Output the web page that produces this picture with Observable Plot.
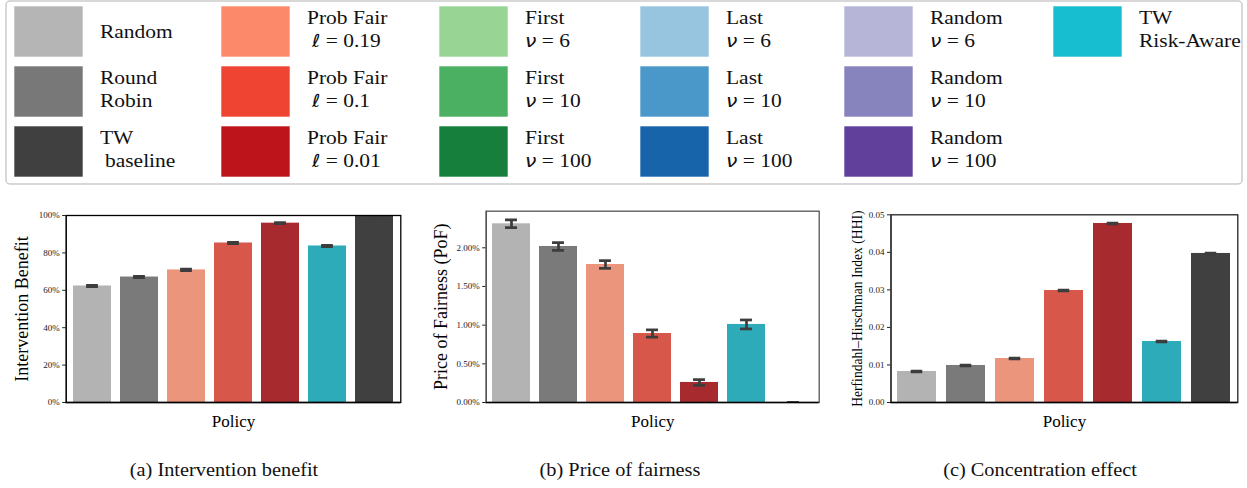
<!DOCTYPE html>
<html>
<head>
<meta charset="utf-8">
<script src="https://cdn.jsdelivr.net/npm/d3@7"></script>
<script src="https://cdn.jsdelivr.net/npm/@observablehq/plot@0.6"></script>
<style>
  body { margin: 0; background: #fff; }
  #page { position: relative; width: 1247px; height: 488px; overflow: hidden; font-family: "Liberation Serif", serif; background: #fff; }
  .panel { position: absolute; top: 200px; }
  #overlay { position: absolute; left: 0; top: 0; }
</style>
</head>
<body>
<div id="page"></div>
<script>
// Policies shown in each panel, in bar order
const policies = [
  "Random", "Round Robin", "Prob Fair ℓ = 0.19", "Prob Fair ℓ = 0.1",
  "Prob Fair ℓ = 0.01", "TW Risk-Aware", "TW baseline"
];
const barColors = ["#b3b3b3", "#7a7a7a", "#ea957c", "#d7574b", "#a62a2e", "#2eabb8", "#404040"];

// (a) intervention benefit (fraction of TW baseline)
const benefit    = [0.623, 0.671, 0.709, 0.853, 0.959, 0.837, 1.000];
const benefitErr = [0.004, 0.004, 0.004, 0.003, 0.003, 0.004, 0.000];
const benefitTicks = [0, 0.2, 0.4, 0.6, 0.8, 1.0];

// (b) price of fairness
const pof    = [0.02310, 0.02017, 0.01784, 0.00892, 0.00259, 0.01009, 0.00000];
const pofErr = [0.00050, 0.00050, 0.00050, 0.00047, 0.00037, 0.00058, 0.00003];
const pofTicks = [0, 0.005, 0.010, 0.015, 0.020];

// (c) Herfindahl–Hirschman index
const hhi    = [0.00826, 0.00986, 0.01172, 0.02984, 0.04769, 0.01625, 0.03970];
const hhiErr = [0.00010, 0.00010, 0.00010, 0.00010, 0.00010, 0.00008, 0.00010];
const hhiTicks = [0, 0.01, 0.02, 0.03, 0.04, 0.05];

// Legend entries (column-major), one array of lines per entry
const legendLabels = [
  ["Random"], ["Round", "Robin"], ["TW", " baseline"],
  ["Prob Fair", " ℓ = 0.19"], ["Prob Fair", " ℓ = 0.1"], ["Prob Fair", " ℓ = 0.01"],
  ["First", "ν = 6"], ["First", "ν = 10"], ["First", "ν = 100"],
  ["Last", "ν = 6"], ["Last", "ν = 10"], ["Last", "ν = 100"],
  ["Random", "ν = 6"], ["Random", "ν = 10"], ["Random", "ν = 100"],
  ["TW", "Risk-Aware"]
];
const legendColors = [
  "#b5b5b5", "#787878", "#404040",
  "#fc8a6a", "#f04433", "#bc141a",
  "#98d594", "#4bb062", "#157f3b",
  "#97c4df", "#4a98c9", "#1764ab",
  "#b6b5d8", "#8683bd", "#61409b",
  "#17becf"
];

const captions = ["(a) Intervention benefit", "(b) Price of fairness", "(c) Concentration effect"];

const page = document.getElementById("page");
const errColor = "#3d3d3d";
const serif = "Liberation Serif";
const stretch = 1.13; // horizontal stretch applied to legend and caption text

function drawPanel(o) {
  const rows = policies.map((p, i) => ({
    policy: p, value: o.values[i], lo: o.values[i] - o.errs[i], hi: o.values[i] + o.errs[i]
  }));
  const innerW = o.width - o.marginLeft - o.marginRight;
  const bandW = innerW / policies.length * 0.8;
  const capInset = (bandW - 12) / 2;
  const cap = {x: "policy", stroke: errColor, strokeWidth: 2.7, insetLeft: capInset, insetRight: capInset, clip: true};
  const chart = Plot.plot({
    width: o.width,
    height: 240,
    marginLeft: o.marginLeft,
    marginRight: o.marginRight,
    marginTop: o.marginTop,
    marginBottom: 38,
    style: {fontFamily: serif, fontSize: "9px", color: "#222", background: "transparent", overflow: "visible"},
    x: {type: "band", domain: policies, paddingInner: 0.2, paddingOuter: 0.1, axis: null},
    y: {domain: o.domain, ticks: o.ticks, tickFormat: o.fmt, tickSize: 3.5, tickPadding: 3, label: null, line: true},
    color: {domain: policies, range: barColors},
    marks: [
      Plot.barY(rows, {x: "policy", y: "value", fill: "policy", clip: true}),
      Plot.ruleX(rows, {x: "policy", y1: "lo", y2: "hi", stroke: errColor, strokeWidth: 2.7, clip: true}),
      Plot.tickY(rows, {...cap, y: "lo"}),
      Plot.tickY(rows, {...cap, y: "hi"}),
      Plot.frame({stroke: o.frameStroke, strokeWidth: 1.3}),
      Plot.ruleY([o.domain[0]], {stroke: "#000", strokeWidth: 1.4}),
      Plot.text([o.ylabel], {text: d => d, frameAnchor: "left", rotate: -90, dx: o.labelDx,
        fontSize: o.labelSize, textAnchor: "middle", lineAnchor: "middle", fill: "#000"}),
      Plot.text(["Policy"], {text: d => d, frameAnchor: "bottom", dy: 19.2, fontSize: 17,
        textAnchor: "middle", lineAnchor: "middle", fill: "#000"})
    ]
  });
  const div = document.createElement("div");
  div.className = "panel";
  div.style.left = o.left + "px";
  div.appendChild(chart);
  page.appendChild(div);
}

drawPanel({
  left: 0, width: 415, marginLeft: 65.7, marginRight: 14.7, marginTop: 15,
  values: benefit, errs: benefitErr, domain: [0, 1], ticks: benefitTicks, fmt: d3.format(".0%"),
  ylabel: "Intervention Benefit", labelSize: 18, labelDx: -43.7, frameStroke: "#000"
});
drawPanel({
  left: 415, width: 415, marginLeft: 70.7, marginRight: 11.3, marginTop: 10.7,
  values: pof, errs: pofErr, domain: [0, 0.02473], ticks: pofTicks, fmt: d3.format(".2%"),
  ylabel: "Price of Fairness (PoF)", labelSize: 18, labelDx: -45.2, frameStroke: "#555"
});
drawPanel({
  left: 830, width: 417, marginLeft: 60.5, marginRight: 9.7, marginTop: 14.3,
  values: hhi, errs: hhiErr, domain: [0, 0.05], ticks: hhiTicks, fmt: d3.format(".2f"),
  ylabel: "Herfindahl–Hirschman Index (HHI)", labelSize: 13.6, labelDx: -33.5, frameStroke: "#222"
});

// Legend box and captions
const svg = d3.select(page).append("svg")
  .attr("id", "overlay")
  .attr("width", 1247).attr("height", 488)
  .style("pointer-events", "none")
  .style("font-family", serif);

svg.append("rect")
  .attr("x", 6).attr("y", 1).attr("width", 1236).attr("height", 183)
  .attr("rx", 4).attr("fill", "#fff").attr("stroke", "#cccccc").attr("stroke-width", 1.5);

const colX = [14, 221, 439, 640, 844, 1053];
const rowY = [6, 66, 126];
const swatchW = 69, swatchH = 51, textOffset = 86;

function stretchedText(x, y, size) {
  return svg.append("text")
    .attr("transform", `translate(${x},${y}) scale(${stretch},1)`)
    .attr("font-size", size).attr("fill", "#111");
}

legendLabels.forEach((lines, i) => {
  const col = Math.floor(i / 3), row = i % 3;
  const x = colX[col], y = rowY[row];
  svg.append("rect")
    .attr("x", x).attr("y", y).attr("width", swatchW).attr("height", swatchH)
    .attr("fill", legendColors[i]).attr("stroke", "#fff").attr("stroke-width", 0.6);
  const baselines = lines.length === 1 ? [y + 31.5] : [y + 18, y + 41];
  lines.forEach((line, j) => {
    const indent = line.startsWith(" ") ? 5 : 0;
    const t = stretchedText(x + textOffset + indent, baselines[j], 19);
    line.trim().split(/(ν|ℓ)/).filter(s => s.length).forEach(part => {
      const ts = t.append("tspan").text(part);
      if (part === "ν" || part === "ℓ") {
        ts.attr("font-family", "DejaVu Sans").attr("font-style", "italic").attr("font-size", 18);
      }
    });
  });
});

const captionX = [224, 620, 1040];
captions.forEach((c, i) => {
  stretchedText(captionX[i], 476, 18).attr("text-anchor", "middle").text(c);
});
</script>
</body>
</html>
